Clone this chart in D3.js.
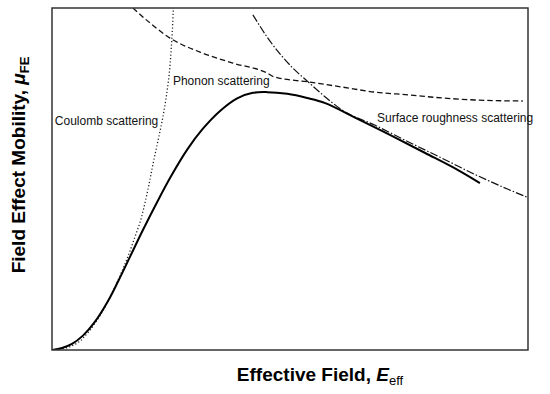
<!DOCTYPE html>
<html>
<head>
<meta charset="utf-8">
<script src="https://cdn.jsdelivr.net/npm/d3@7"></script>
<style>
  body { margin: 0; background: #fff; }
  svg { display: block; font-family: "Liberation Sans", Arial, sans-serif; }
</style>
</head>
<body>
<script>
// curve values (arbitrary units, 0-100 on both axes)
const totalX = [0, 2.1, 4.2, 6.5, 9.0, 11.8, 13.9, 16.4, 19.1, 22.1, 25.0, 28.4, 31.7, 35.3, 38.9, 42.2, 45.2, 49.4, 53.6, 57.4, 64.3, 71.4, 78.4, 85.3, 89.9];
const totalY = [0, 0.6, 1.8, 4.2, 8.2, 14.4, 20.1, 27.3, 35.1, 43.3, 50.8, 58.6, 64.7, 69.9, 73.6, 75.2, 75.4, 74.9, 73.7, 72.2, 67.5, 62.6, 57.6, 52.6, 48.8];

const phononX = [17, 20.6, 24.8, 31.1, 38, 45.2, 46.8, 53.8, 60.9, 67.9, 74.8, 81.9, 88.9, 98.9];
const phononY = [100, 95.6, 91.2, 87.1, 83.9, 81, 79.8, 78.4, 76.9, 75.4, 74.6, 73.7, 73.1, 72.8];

const coulombX = [0.8, 2.9, 5.0, 7.1, 9.5, 12.0, 14.1, 16.0, 17.2, 18.5, 19.9, 21.4, 22.3, 23.1, 23.9, 24.6, 25.1, 25.5];
const coulombY = [0, 0.6, 1.8, 4.4, 8.8, 14.9, 21.1, 27.5, 32.2, 37.4, 45.3, 55.6, 61.4, 66.7, 73.1, 80.4, 89.2, 100];

const roughX = [42.2, 45.2, 50.4, 53.8, 57.4, 60.9, 67.9, 74.8, 81.9, 88.9, 95.8, 99.8];
const roughY = [98, 91.5, 82.7, 78.4, 74, 70.2, 65.7, 60.9, 56.1, 51.3, 47, 44.7];

const labels = ["Coulomb scattering", "Phonon scattering", "Surface roughness scattering"];
const labelX = [0.6, 25.4, 68.3];
const labelY = [65.8, 77.5, 66.7];

const W = 550, H = 394;
const m = { left: 52, right: 22, top: 8, bottom: 44 };

const svg = d3.select("body").append("svg")
    .attr("width", W)
    .attr("height", H);

const x = d3.scaleLinear().domain([0, 100]).range([m.left, W - m.right]);
const y = d3.scaleLinear().domain([0, 100]).range([H - m.bottom, m.top]);

svg.append("defs").append("clipPath").attr("id", "plot")
  .append("rect")
    .attr("x", x(0)).attr("y", y(100))
    .attr("width", x(100) - x(0)).attr("height", y(0) - y(100));

function zip(a, b) { return a.map((v, i) => [v, b[i]]); }

const smooth = d3.line()
    .x(d => x(d[0]))
    .y(d => y(d[1]))
    .curve(d3.curveMonotoneX);

const round = d3.line()
    .x(d => x(d[0]))
    .y(d => y(d[1]))
    .curve(d3.curveCatmullRom.alpha(0.5));

// the coulomb curve is nearly vertical, so walk it along y
const smoothY = d3.line()
    .x(d => x(d[0]))
    .y(d => y(d[1]))
    .curve(d3.curveMonotoneY);

const g = svg.append("g").attr("clip-path", "url(#plot)");

g.append("path")
    .attr("d", smoothY(zip(coulombX, coulombY)))
    .attr("fill", "none").attr("stroke", "#222")
    .attr("stroke-width", 1.3)
    .attr("stroke-dasharray", "1.2,2.2");

g.append("path")
    .attr("d", smooth(zip(phononX, phononY)))
    .attr("fill", "none").attr("stroke", "#111")
    .attr("stroke-width", 1.3)
    .attr("stroke-dasharray", "5.5,3");

g.append("path")
    .attr("d", smooth(zip(roughX, roughY)))
    .attr("fill", "none").attr("stroke", "#111")
    .attr("stroke-width", 1.2)
    .attr("stroke-dasharray", "8,2,1.5,2");

g.append("path")
    .attr("d", round(zip(totalX, totalY)))
    .attr("fill", "none").attr("stroke", "#000")
    .attr("stroke-width", 2);

// frame
svg.append("rect")
    .attr("x", x(0)).attr("y", y(100))
    .attr("width", x(100) - x(0)).attr("height", y(0) - y(100))
    .attr("fill", "none").attr("stroke", "#333").attr("stroke-width", 1.5);

svg.selectAll(".lbl")
  .data(labels)
  .enter().append("text")
    .attr("class", "lbl")
    .attr("x", (d, i) => x(labelX[i]))
    .attr("y", (d, i) => y(labelY[i]))
    .attr("font-size", 12)
    .attr("fill", "#111")
    .text(d => d);

// axis titles
const xt = svg.append("text")
    .attr("x", 320).attr("y", 381)
    .attr("text-anchor", "middle")
    .attr("font-size", 19).attr("font-weight", "bold");
xt.append("tspan").text("Effective Field, ");
xt.append("tspan").attr("font-style", "italic").text("E");
xt.append("tspan").attr("font-size", 13).attr("font-weight", "normal").attr("dy", 4).text("eff");

const yt = svg.append("text")
    .attr("transform", "translate(25,165) rotate(-90)")
    .attr("text-anchor", "middle")
    .attr("font-size", 19).attr("font-weight", "bold");
yt.append("tspan").text("Field Effect Mobility, ");
yt.append("tspan").attr("font-style", "italic").text("μ");
yt.append("tspan").attr("font-size", 13).attr("dy", 4).text("FE");
</script>
</body>
</html>
